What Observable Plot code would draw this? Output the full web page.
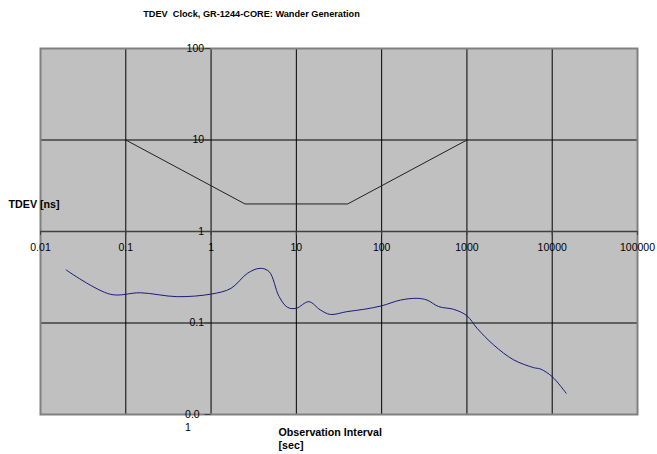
<!DOCTYPE html>
<html>
<head>
<meta charset="utf-8">
<script src="https://cdn.jsdelivr.net/npm/d3@7"></script>
<script src="https://cdn.jsdelivr.net/npm/@observablehq/plot@0.6"></script>
<style>
  html, body { margin: 0; padding: 0; background: #ffffff; }
  #chart svg { display: block; font-family: "Liberation Sans", Arial, sans-serif; }
</style>
</head>
<body>
<div id="chart"></div>
<script>
const titleText = "TDEV  Clock, GR-1244-CORE: Wander Generation";
const yTitle = "TDEV [ns]";
const xTitleLines = ["Observation Interval", "[sec]"];

const xTicks = [0.01, 0.1, 1, 10, 100, 1000, 10000, 100000];
const xTickLabels = ["0.01", "0.1", "1", "10", "100", "1000", "10000", "100000"];
const yTicks = [100, 10, 1, 0.1, 0.01];
const yTickLabels = ["100", "10", "1", "0.1", "0.0\n1"];

// GR-1244-CORE mask
const maskTau = [0.1, 2.5, 40, 1000];
const maskTdev = [10, 2, 2, 10];

// measured TDEV
const measTau = [0.02, 0.066, 0.149, 0.4, 1, 1.71, 2.68, 3.76, 4.8, 6.28, 7.9, 10, 14, 19.1, 25, 39, 61.6, 100, 166, 261, 341, 467, 700, 1000, 1316, 2060, 3540, 6070, 7280, 10000, 14560];
const measTdev = [0.38, 0.206, 0.214, 0.194, 0.207, 0.239, 0.35, 0.396, 0.364, 0.194, 0.148, 0.145, 0.171, 0.139, 0.124, 0.133, 0.141, 0.154, 0.178, 0.186, 0.178, 0.151, 0.141, 0.12, 0.0875, 0.0575, 0.0395, 0.0325, 0.0314, 0.0259, 0.0171];

const mask = maskTau.map((t, i) => ({tau: t, tdev: maskTdev[i]}));
const meas = measTau.map((t, i) => ({tau: t, tdev: measTdev[i]}));
const xt = xTicks.map((v, i) => ({v, label: xTickLabels[i]}));
const yt = yTicks.map((v, i) => ({v, label: yTickLabels[i]}));
const gridX = xTicks.slice(1, -1);
const gridY = yTicks.slice(1, -1);

const fontFam = "'Liberation Sans', Arial, sans-serif";

const chart = Plot.plot({
  width: 657,
  height: 454,
  marginTop: 48,
  marginRight: 20,
  marginBottom: 40,
  marginLeft: 40,
  style: {fontFamily: fontFam, background: "#ffffff", color: "#000"},
  x: {type: "log", domain: [0.01, 100000], axis: null},
  y: {type: "log", domain: [0.01, 100], axis: null},
  marks: [
    Plot.frame({fill: "#c0c0c0", stroke: "none"}),
    Plot.ruleX(gridX, {stroke: "#000", strokeWidth: 1}),
    Plot.ruleY(gridY, {stroke: "#000", strokeWidth: 1}),
    Plot.frame({stroke: "#808080", strokeWidth: 2}),
    // x axis at y = 1
    Plot.ruleY([1], {stroke: "#404040", strokeWidth: 1.3}),
    Plot.ruleX(xt, {x: "v", y1: () => 1, y2: () => 1, insetBottom: -4, stroke: "#404040"}),
    Plot.text(xt, {x: "v", y: () => 1, text: "label", dy: 16, lineAnchor: "middle", fontSize: 10.5, fill: "#000"}),
    // y axis at x = 1
    Plot.ruleY(yt, {y: "v", x1: () => 1, x2: () => 1, insetLeft: -6, stroke: "#404040"}),
    Plot.text(yt.slice(0, 4), {x: () => 1, y: "v", text: "label", dx: -7, textAnchor: "end", lineAnchor: "middle", fontSize: 10.5, fill: "#000"}),
    Plot.text(yt.slice(4), {x: () => 1, y: "v", text: "label", dx: -26, dy: -5, textAnchor: "start", lineAnchor: "top", lineHeight: 1.17, fontSize: 10.5, fill: "#000"}),
    // mask and measurement
    Plot.line(mask, {x: "tau", y: "tdev", stroke: "#202020", strokeWidth: 1}),
    Plot.line(meas, {x: "tau", y: "tdev", stroke: "#1a1a80", strokeWidth: 1, curve: "catmull-rom"}),
    // titles
    Plot.text([titleText], {frameAnchor: "top-left", dx: 251 - 40, dy: 14 - 48, textAnchor: "middle", lineAnchor: "middle", fontSize: 9.2, fontWeight: "bold", fill: "#000"}),
    Plot.text([yTitle], {frameAnchor: "top-left", dx: 8 - 40, dy: 204 - 48, textAnchor: "start", lineAnchor: "middle", fontSize: 10.7, fontWeight: "bold", fill: "#000"}),
    Plot.text([xTitleLines[0]], {frameAnchor: "top-left", dx: 278 - 40, dy: 432 - 48, textAnchor: "start", lineAnchor: "middle", fontSize: 10.7, fontWeight: "bold", fill: "#000"}),
    Plot.text([xTitleLines[1]], {frameAnchor: "top-left", dx: 278 - 40, dy: 445 - 48, textAnchor: "start", lineAnchor: "middle", fontSize: 10.7, fontWeight: "bold", fill: "#000"})
  ]
});
document.getElementById("chart").appendChild(chart);
</script>
</body>
</html>
